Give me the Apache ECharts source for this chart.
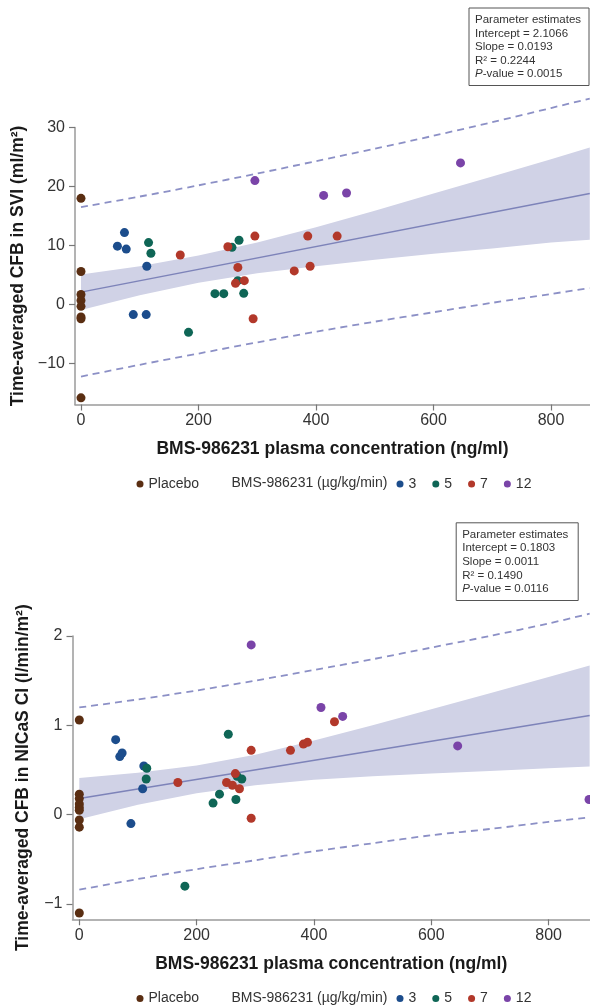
<!DOCTYPE html>
<html>
<head>
<meta charset="utf-8">
<script src="https://cdn.jsdelivr.net/npm/echarts@6/dist/echarts.min.js"></script>
<style>
html,body{margin:0;padding:0;background:#fff;}
#chart{width:590px;height:1006px;}
</style>
</head>
<body>
<div id="chart"></div>
<script>
// ---------- DATA ----------
// Top panel: time-averaged CFB in SVI (ml/m²)
const sviPlaceboX = [0, 0, 0, 0, 0, 0, 0, 0];
const sviPlaceboY = [18.0, 5.6, 1.7, 0.7, -0.3, -2.1, -2.4, -15.8];
const sviDose3X = [62, 74, 77, 89, 111, 112];
const sviDose3Y = [9.9, 12.2, 9.4, -1.7, -1.7, 6.5];
const sviDose5X = [115, 119, 183, 228, 243, 257, 269, 267, 277];
const sviDose5Y = [10.5, 8.7, -4.7, 1.85, 1.85, 9.7, 10.9, 4.05, 1.9];
const sviDose7X = [169, 250, 267, 263, 278, 296, 293, 363, 386, 390, 436];
const sviDose7Y = [8.4, 9.8, 6.3, 3.6, 4.05, 11.6, -2.4, 5.7, 11.6, 6.5, 11.6];
const sviDose12X = [296, 413, 452, 646];
const sviDose12Y = [21.0, 18.5, 18.9, 24.0];
// fitted line and bands (read at these concentrations)
const sviFitX = [0, 866];
const sviFitY = [2.11, 18.82];
const sviBandX = [0, 100, 200, 300, 400, 500, 600, 700, 800, 866];
const sviCiUpper = [5.1, 6.5, 8.3, 10.5, 13.1, 15.9, 18.8, 21.7, 24.6, 26.6];
const sviCiLower = [-0.9, 1.6, 3.7, 5.3, 6.5, 7.6, 8.6, 9.5, 10.5, 11.0];
const sviPiUpper = [16.5, 18.3, 20.2, 22.2, 24.3, 26.4, 28.6, 30.9, 33.3, 34.9];
const sviPiLower = [-12.2, -10.2, -8.3, -6.4, -4.6, -2.9, -1.3, 0.3, 1.8, 2.8];
const sviParams = ['Parameter estimates', 'Intercept = 2.1066', 'Slope = 0.0193', 'R² = 0.2244', '0.0015'];

// Bottom panel: time-averaged CFB in NICaS CI (l/min/m²)
const ciPlaceboX = [0, 0, 0, 0, 0, 0, 0, 0, 0];
const ciPlaceboY = [1.06, 0.23, 0.18, 0.12, 0.08, 0.05, -0.06, -0.14, -1.10];
const ciDose3X = [62, 69, 73, 88, 108, 110];
const ciDose3Y = [0.84, 0.65, 0.69, -0.10, 0.29, 0.545];
const ciDose5X = [115, 114, 180, 228, 239, 254, 267, 269, 277];
const ciDose5Y = [0.52, 0.40, -0.80, 0.13, 0.23, 0.90, 0.17, 0.43, 0.40];
const ciDose7X = [168, 251, 261, 266, 273, 293, 293, 360, 382, 389, 435];
const ciDose7Y = [0.36, 0.36, 0.33, 0.46, 0.29, 0.72, -0.04, 0.72, 0.79, 0.81, 1.04];
const ciDose12X = [293, 412, 449, 645, 869];
const ciDose12Y = [1.90, 1.20, 1.10, 0.77, 0.17];
const ciFitX = [0, 870];
const ciFitY = [0.18, 1.11];
const ciBandX = [0, 100, 200, 300, 400, 500, 600, 700, 800, 870];
const ciCiUpper = [0.41, 0.47, 0.55, 0.67, 0.83, 1.00, 1.18, 1.36, 1.54, 1.67];
const ciCiLower = [-0.05, 0.11, 0.24, 0.33, 0.39, 0.43, 0.46, 0.49, 0.52, 0.54];
const ciPiUpper = [1.20, 1.29, 1.39, 1.50, 1.62, 1.74, 1.87, 2.00, 2.14, 2.25];
const ciPiLower = [-0.84, -0.72, -0.61, -0.51, -0.41, -0.32, -0.23, -0.16, -0.08, -0.03];
const ciParams = ['Parameter estimates', 'Intercept = 0.1803', 'Slope = 0.0011', 'R² = 0.1490', '0.0116'];

// axis ticks
const xTicks = [0, 200, 400, 600, 800];
const sviTicks = [-10, 0, 10, 20, 30];
const ciTicks = [-1, 0, 1, 2];

const groupNames = ['Placebo', '3', '5', '7', '12'];
const doseLegendTitle = 'BMS-986231 (µg/kg/min)';
const xTitle = 'BMS-986231 plasma concentration (ng/ml)';
const sviTitle = 'Time-averaged CFB in SVI (ml/m²)';
const ciTitle = 'Time-averaged CFB in NICaS CI (l/min/m²)';

// ---------- STYLE ----------
const FONT = '"Liberation Sans", Arial, Helvetica, sans-serif';
const groupColors = ['#5a2e12', '#1c4d8c', '#0f6656', '#b2382a', '#7a44a8'];
const bandColor = '#d0d2e6';
const fitColor = '#7d83b9';
const piColor = '#8c90c6';
const axisColor = '#9a9a9a';

function zip(xs, ys) { return xs.map((x, i) => [x, ys[i]]); }

function panelSeries(idx, groups, fitX, fitY, bandX, ciU, ciL, piU, piL) {
  const s = [];
  s.push({
    type: 'custom', xAxisIndex: idx, yAxisIndex: idx, z: 1, silent: true,
    data: [[bandX[0], ciL[0]]],
    renderItem: function (params, api) {
      const pts = [];
      for (let i = 0; i < bandX.length; i++) pts.push(api.coord([bandX[i], ciU[i]]));
      for (let i = bandX.length - 1; i >= 0; i--) pts.push(api.coord([bandX[i], ciL[i]]));
      return { type: 'polygon', shape: { points: pts }, style: { fill: bandColor } };
    }
  });
  s.push({
    type: 'line', xAxisIndex: idx, yAxisIndex: idx, z: 2, silent: true, symbol: 'none',
    data: zip(fitX, fitY), lineStyle: { color: fitColor, width: 1.5 }
  });
  [piU, piL].forEach(arr => {
    s.push({
      type: 'line', xAxisIndex: idx, yAxisIndex: idx, z: 2, silent: true, symbol: 'none',
      smooth: 0.3, clip: false,
      data: zip(bandX, arr), lineStyle: { color: piColor, width: 1.8, type: [7, 5] }
    });
  });
  groups.forEach((g, i) => {
    s.push({
      type: 'scatter', name: groupNames[i], xAxisIndex: idx, yAxisIndex: idx, z: 3,
      symbolSize: 9, data: zip(g[0], g[1]),
      itemStyle: { color: groupColors[i], opacity: 1 }
    });
  });
  return s;
}

function xAxisCfg(idx, min, max) {
  return {
    gridIndex: idx, type: 'value', min: min, max: max,
    name: xTitle, nameLocation: 'middle', nameGap: 36,
    nameTextStyle: { fontFamily: FONT, fontSize: 17.5, fontWeight: 'bold', color: '#1a1a1a' },
    axisLine: { show: true, onZero: false, lineStyle: { color: axisColor, width: 1.5 } },
    axisTick: { show: true, length: 6, customValues: xTicks, lineStyle: { color: '#777', width: 1.2 } },
    axisLabel: { customValues: xTicks, margin: 8, fontFamily: FONT, fontSize: 16, color: '#333' },
    splitLine: { show: false }
  };
}
function yAxisCfg(idx, min, max, ticks, title, gap) {
  return {
    gridIndex: idx, type: 'value', min: min, max: max,
    name: title, nameLocation: 'middle', nameGap: gap,
    nameTextStyle: { fontFamily: FONT, fontSize: 17.5, fontWeight: 'bold', color: '#1a1a1a' },
    axisLine: { show: true, onZero: false, lineStyle: { color: axisColor, width: 1.5 } },
    axisTick: { show: true, length: 6, customValues: ticks, lineStyle: { color: '#777', width: 1.2 } },
    axisLabel: { customValues: ticks, margin: 10, fontFamily: FONT, fontSize: 16, color: '#333',
      formatter: v => (v < 0 ? '\u2212' + Math.abs(v) : String(v)) },
    splitLine: { show: false }
  };
}

function paramBox(left, top, width, height, lines) {
  return {
    type: 'group', left: left, top: top, silent: true,
    children: [
      { type: 'rect', shape: { x: 0, y: 0, width: width, height: height },
        style: { fill: '#fff', stroke: '#555', lineWidth: 1 } },
      { type: 'text', x: 6, y: 5,
        style: {
          text: lines.slice(0, 4).join('\n') + '\n{i|P}-value = ' + lines[4],
          font: '11.5px ' + FONT, fill: '#333', lineHeight: 13.6,
          rich: { i: { fontStyle: 'italic', fontSize: 11.5, fontFamily: FONT, lineHeight: 13.6, fill: '#333' } }
        } }
    ]
  };
}

const legendCommon = {
  icon: 'circle', itemWidth: 7, itemHeight: 7, padding: 0, selectedMode: false,
  textStyle: { fontFamily: FONT, fontSize: 14, color: '#333' }
};

const option = {
  animation: false,
  backgroundColor: '#fff',
  textStyle: { fontFamily: FONT },
  grid: [
    { left: 75, right: 0, top: 127.5, height: 277, containLabel: false, outerBoundsMode: 'none' },
    { left: 72.5, right: 0, top: 636, height: 283.3, containLabel: false, outerBoundsMode: 'none' }
  ],
  xAxis: [xAxisCfg(0, -10.2, 866.4), xAxisCfg(1, -11.6, 870.6)],
  yAxis: [
    yAxisCfg(0, -16.93, 30, sviTicks, sviTitle, 42),
    yAxisCfg(1, -1.171, 2, ciTicks, ciTitle, 40)
  ],
  legend: [
    Object.assign({ data: ['Placebo'], left: 136.5, top: 477 }, legendCommon),
    Object.assign({ data: ['3', '5', '7', '12'], left: 396.5, top: 477, itemGap: 16 }, legendCommon),
    Object.assign({ data: ['Placebo'], left: 136.5, top: 991.5 }, legendCommon),
    Object.assign({ data: ['3', '5', '7', '12'], left: 396.5, top: 991.5, itemGap: 16 }, legendCommon)
  ],
  graphic: [
    paramBox(468.5, 7.5, 120, 77.5, sviParams),
    paramBox(455.7, 522.3, 122, 77.7, ciParams),
    { type: 'text', left: 231.5, top: 476.5, silent: true,
      style: { text: doseLegendTitle, font: '14px ' + FONT, fill: '#333' } },
    { type: 'text', left: 231.5, top: 991, silent: true,
      style: { text: doseLegendTitle, font: '14px ' + FONT, fill: '#333' } }
  ],
  series: [].concat(
    panelSeries(0,
      [[sviPlaceboX, sviPlaceboY], [sviDose3X, sviDose3Y], [sviDose5X, sviDose5Y], [sviDose7X, sviDose7Y], [sviDose12X, sviDose12Y]],
      sviFitX, sviFitY, sviBandX, sviCiUpper, sviCiLower, sviPiUpper, sviPiLower),
    panelSeries(1,
      [[ciPlaceboX, ciPlaceboY], [ciDose3X, ciDose3Y], [ciDose5X, ciDose5Y], [ciDose7X, ciDose7Y], [ciDose12X, ciDose12Y]],
      ciFitX, ciFitY, ciBandX, ciCiUpper, ciCiLower, ciPiUpper, ciPiLower)
  )
};

const chart = echarts.init(document.getElementById('chart'), null, { renderer: 'canvas', width: 590, height: 1006 });
chart.setOption(option);
</script>
</body>
</html>
